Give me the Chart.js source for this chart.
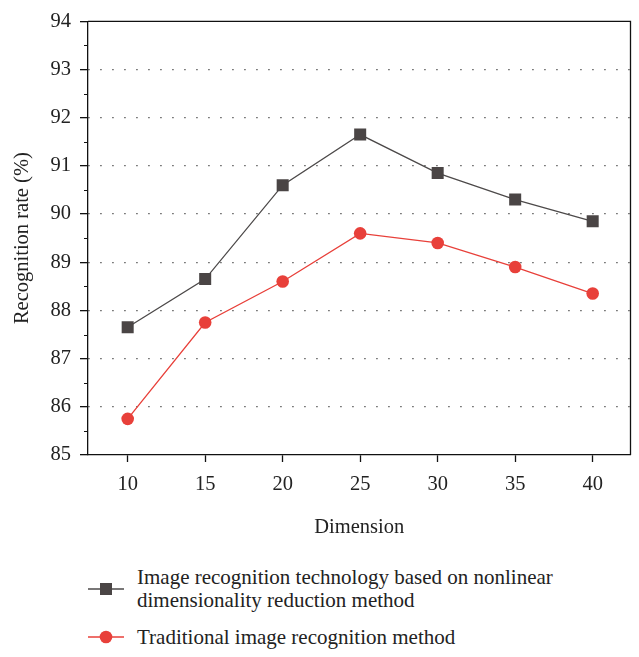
<!DOCTYPE html>
<html>
<head>
<meta charset="utf-8">
<script src="https://cdn.jsdelivr.net/npm/chart.js@4.4.0/dist/chart.umd.min.js"></script>
<style>
  html, body { margin: 0; padding: 0; background: #fff; }
  body { width: 639px; height: 657px; position: relative; overflow: hidden; font-family: "Liberation Serif", "DejaVu Serif", serif; }
  #wrap { position: absolute; left: 0; top: 0; width: 639px; height: 540px; }
  .leg { position: absolute; left: 88px; font-size: 21px; color: #222; line-height: 23px; }
  .leg .txt { position: absolute; left: 49px; top: 0; white-space: nowrap; }
  .leg svg { position: absolute; left: 0; }
</style>
</head>
<body>
<div id="wrap"><canvas id="c" width="639" height="540"></canvas></div>
<div class="leg" style="top:566px;">
  <svg width="40" height="20" style="top:13px"><line x1="0" y1="10" x2="36" y2="10" stroke="#4d4a4a" stroke-width="1.3"/><rect x="12" y="4" width="12" height="12" fill="#4a4545"/></svg>
  <div class="txt" id="leg1"></div>
</div>
<div class="leg" style="top:626px;">
  <svg width="40" height="20" style="top:1px"><line x1="0" y1="10" x2="36" y2="10" stroke="#e8403a" stroke-width="1.3"/><circle cx="18" cy="10" r="6.3" fill="#e8403a"/></svg>
  <div class="txt" id="leg2"></div>
</div>
<script>
const dimensions = [10, 15, 20, 25, 30, 35, 40];
const nonlinearRate = [87.65, 88.65, 90.6, 91.65, 90.85, 90.3, 89.85];
const traditionalRate = [85.75, 87.75, 88.6, 89.6, 89.4, 88.9, 88.35];
const seriesNames = ["Image recognition technology based on nonlinear dimensionality reduction method", "Traditional image recognition method"];
const legendLines1 = ["Image recognition technology based on nonlinear", "dimensionality reduction method"];
const yTicks = [85, 86, 87, 88, 89, 90, 91, 92, 93, 94];

document.getElementById('leg1').innerHTML = legendLines1.join('<br>');
document.getElementById('leg2').textContent = seriesNames[1];

const FONT = "'Liberation Serif', 'DejaVu Serif', serif";
const FS = 20.5;

const framePlugin = {
  id: 'frame',
  afterDraw(chart) {
    const ctx = chart.ctx, a = chart.chartArea, y = chart.scales.y;
    ctx.save();
    ctx.strokeStyle = '#111';
    ctx.lineWidth = 1.3;
    ctx.beginPath();
    ctx.moveTo(a.left, a.top); ctx.lineTo(a.right, a.top); ctx.lineTo(a.right, a.bottom);
    ctx.stroke();
    ctx.lineWidth = 1;
    for (let i = 0; i < yTicks.length - 1; i++) {
      const v = (yTicks[i] + yTicks[i + 1]) / 2;
      const py = Math.round(y.getPixelForValue(v)) + 0.5;
      ctx.beginPath();
      ctx.moveTo(a.left - 4, py); ctx.lineTo(a.left, py);
      ctx.stroke();
    }
    ctx.restore();
  }
};

new Chart(document.getElementById('c'), {
  type: 'line',
  data: {
    datasets: [
      {
        label: seriesNames[0],
        data: dimensions.map((d, i) => ({ x: d, y: nonlinearRate[i] })),
        borderColor: '#4d4a4a',
        backgroundColor: '#4a4545',
        borderWidth: 1.3,
        pointStyle: 'rect',
        pointRadius: 8.5,
        pointBorderWidth: 0,
        tension: 0
      },
      {
        label: seriesNames[1],
        data: dimensions.map((d, i) => ({ x: d, y: traditionalRate[i] })),
        borderColor: '#e8403a',
        backgroundColor: '#e8403a',
        borderWidth: 1.3,
        pointStyle: 'circle',
        pointRadius: 6.3,
        pointBorderWidth: 0,
        tension: 0
      }
    ]
  },
  options: {
    responsive: false,
    animation: false,
    layout: { padding: { left: 0, right: 5, top: 15, bottom: 0 } },
    plugins: { legend: { display: false }, tooltip: { enabled: false } },
    scales: {
      x: {
        type: 'linear',
        min: 7.44,
        max: 42.44,
        afterBuildTicks: (s) => { s.ticks = dimensions.map(v => ({ value: v })); },
        afterFit: (s) => { s.height = 85; },
        border: { color: '#111', width: 1.3 },
        grid: { drawOnChartArea: false, drawTicks: true, tickLength: 7, tickColor: '#111', tickWidth: 1.3 },
        ticks: { color: '#222', font: { family: FONT, size: FS }, padding: 10, maxRotation: 0 },
        title: { display: true, text: 'Dimension', color: '#222', font: { family: FONT, size: FS }, padding: { top: 5, bottom: 0 } }
      },
      y: {
        min: 85,
        max: 94,
        afterBuildTicks: (s) => { s.ticks = yTicks.map(v => ({ value: v })); },
        afterFit: (s) => { s.width = 88; },
        border: { color: '#111', width: 1.3, dash: [1.3, 10.7] },
        grid: {
          color: (c) => (c.tick && (c.tick.value === 85 || c.tick.value === 94)) ? 'rgba(0,0,0,0)' : '#444',
          lineWidth: 1.3,
          drawTicks: true,
          tickLength: 8,
          tickColor: '#111',
          tickWidth: 1.3,
          tickBorderDash: []
        },
        ticks: { color: '#222', font: { family: FONT, size: FS }, padding: 9 },
        title: { display: true, text: 'Recognition rate (%)', color: '#222', font: { family: FONT, size: FS }, padding: { top: 10, bottom: 0 } }
      }
    }
  },
  plugins: [framePlugin]
});
</script>
</body>
</html>
